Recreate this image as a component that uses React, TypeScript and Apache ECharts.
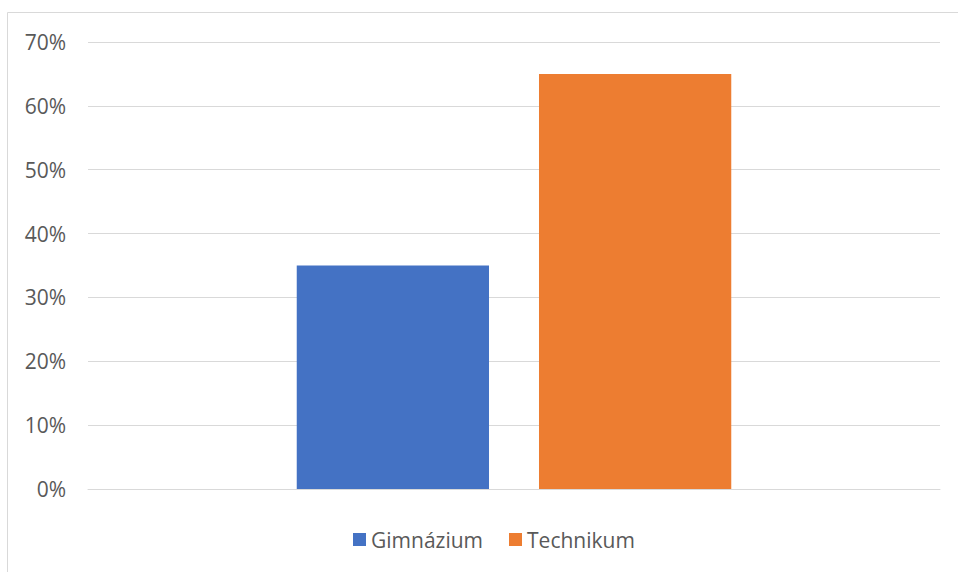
import React, { useEffect, useRef } from "react";
import * as echarts from "echarts";

const categories = [""];
const seriesNames = ["Gimnázium", "Technikum"];
const gimnaziumValues = [35];
const technikumValues = [65];
const colors = ["#4472C4", "#ED7D31"];

export default function App() {
  const ref = useRef<HTMLDivElement>(null);
  useEffect(() => {
    if (!ref.current) return;
    const chart = echarts.init(ref.current, null, { renderer: "svg" });
    const font = "'Open Sans', 'Liberation Sans', sans-serif";
    chart.setOption({
      animation: false,
      backgroundColor: "#ffffff",
      textStyle: { fontFamily: font },
      grid: { left: 88, right: 18, top: 42, bottom: 83, containLabel: false },
      legend: {
        data: seriesNames,
        bottom: 17,
        left: 348,
        itemWidth: 13,
        itemHeight: 13,
        itemGap: 26,
        icon: "rect",
        textStyle: { color: "#595959", fontSize: 21, fontFamily: font },
      },
      xAxis: {
        type: "category",
        data: categories,
        axisLine: { show: true, lineStyle: { color: "#d9d9d9", width: 1 } },
        axisTick: { show: false },
        axisLabel: { show: false },
      },
      yAxis: {
        type: "value",
        min: 0,
        max: 70,
        interval: 10,
        axisLine: { show: false },
        axisTick: { show: false },
        splitLine: { lineStyle: { color: "#d9d9d9", width: 1 } },
        axisLabel: {
          formatter: "{value}%",
          color: "#595959",
          fontSize: 21,
          fontFamily: font,
          margin: 22,
        },
      },
      graphic: [
        { type: "line", shape: { x1: 7.5, y1: 12.5, x2: 958, y2: 12.5 }, style: { stroke: "#d9d9d9", lineWidth: 1 } },
        { type: "line", shape: { x1: 7.5, y1: 12.5, x2: 7.5, y2: 572 }, style: { stroke: "#d9d9d9", lineWidth: 1 } },
      ],
      series: [
        {
          name: seriesNames[0],
          type: "bar",
          data: gimnaziumValues,
          itemStyle: { color: colors[0] },
          barGap: "26%",
          barCategoryGap: "49%",
        },
        {
          name: seriesNames[1],
          type: "bar",
          data: technikumValues,
          itemStyle: { color: colors[1] },
          barGap: "26%",
          barCategoryGap: "49%",
        },
      ],
    });
    return () => chart.dispose();
  }, []);
  return (
    <div
      ref={ref}
      style={{ position: "absolute", left: 0, top: 0, width: 958, height: 572 }}
    />
  );
}
